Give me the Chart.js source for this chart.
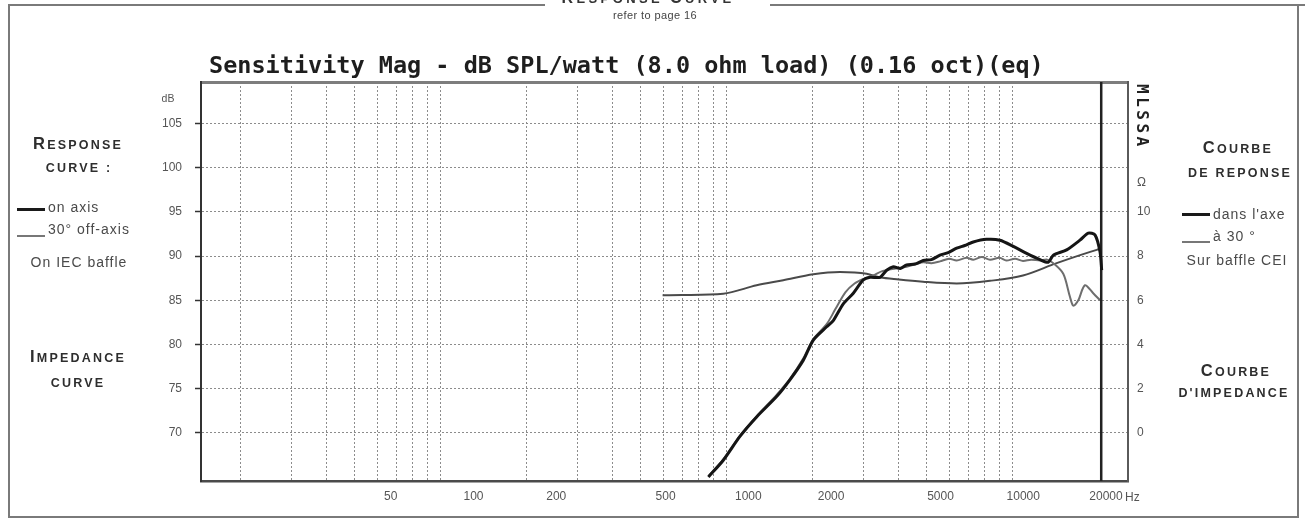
<!DOCTYPE html>
<html>
<head>
<meta charset="utf-8">
<script src="https://cdn.jsdelivr.net/npm/chart.js@4/dist/chart.umd.min.js"></script>
<style>
html,body{margin:0;padding:0;background:#fff;}
#wrap{position:relative;width:1305px;height:521px;overflow:hidden;font-family:"Liberation Sans",Arial,sans-serif;color:#333;background:#fff;}
canvas{position:absolute;left:0;top:0;}
.t{position:absolute;white-space:nowrap;transform:translate(-50%,-50%);}
.l{position:absolute;white-space:nowrap;transform:translate(0,-50%);}
.h{font-weight:bold;color:#2e2e2e;letter-spacing:2.2px;font-size:12.5px;}
.h .big{font-size:16.5px;}
.lg{font-size:14px;letter-spacing:1px;color:#4a4a4a;}
.ln{position:absolute;}
.fr{position:absolute;background:#7a7a7a;}
</style>
</head>
<body>
<div id="wrap">
<canvas id="c" width="1305" height="521"></canvas>

<!-- frame -->
<div class="fr" style="left:8px;top:4px;width:537px;height:2px;"></div>
<div class="fr" style="left:770px;top:4px;width:535px;height:2px;"></div>
<div class="fr" style="left:8px;top:4px;width:2px;height:514px;"></div>
<div class="fr" style="left:8px;top:516px;width:1290px;height:2px;"></div>
<div class="fr" style="left:1297px;top:4px;width:2px;height:514px;"></div>

<!-- header -->
<div class="t" style="left:648px;top:-2px;font-weight:bold;color:#333;letter-spacing:3.4px;font-size:13px;"><span style="font-size:16px">R</span>ESPONSE <span style="font-size:16px">C</span>URVE</div>
<div class="t" style="left:655px;top:15px;font-size:11px;letter-spacing:0.4px;color:#444;">refer to page 16</div>

<!-- chart title -->
<div style="position:absolute;left:209px;top:54px;font-family:'DejaVu Sans Mono',monospace;font-weight:bold;font-size:23.5px;line-height:1;color:#1e1e1e;white-space:nowrap;">Sensitivity Mag - dB SPL/watt (8.0 ohm load) (0.16 oct)(eq)</div>

<!-- left panel -->
<div class="t" style="left:168px;top:98px;font-size:10.5px;color:#555;">dB</div>
<div class="t h" style="left:78px;top:143px;"><span class="big">R</span>ESPONSE</div>
<div class="t h" style="left:79px;top:168px;">CURVE :</div>
<div class="ln" style="left:17px;top:208px;width:28px;height:3px;background:#1a1a1a;"></div>
<div class="l lg" style="left:48px;top:207px;">on axis</div>
<div class="ln" style="left:17px;top:235px;width:28px;height:2px;background:#777;"></div>
<div class="l lg" style="left:48px;top:229px;">30° off-axis</div>
<div class="t lg" style="left:79px;top:262px;">On IEC baffle</div>
<div class="t h" style="left:78px;top:356px;"><span class="big">I</span>MPEDANCE</div>
<div class="t h" style="left:78px;top:383px;">CURVE</div>

<!-- right panel -->
<div class="t h" style="left:1238px;top:147px;"><span class="big">C</span>OURBE</div>
<div class="t h" style="left:1240px;top:173px;">DE REPONSE</div>
<div class="ln" style="left:1182px;top:213px;width:28px;height:3px;background:#1a1a1a;"></div>
<div class="l lg" style="left:1213px;top:214px;">dans l'axe</div>
<div class="ln" style="left:1182px;top:241px;width:28px;height:2px;background:#777;"></div>
<div class="l lg" style="left:1213px;top:236px;">à 30 °</div>
<div class="t lg" style="left:1237px;top:260px;">Sur baffle CEI</div>
<div class="t h" style="left:1236px;top:370px;"><span class="big">C</span>OURBE</div>
<div class="t h" style="left:1234px;top:393px;">D'IMPEDANCE</div>

<div class="l" style="left:1125px;top:497px;font-size:12px;color:#555;">Hz</div>
</div>

<script>
// ---- axis definitions ----
const GRID_FREQS = [20,30,40,50,60,70,80,90,100,200,300,400,500,600,700,800,900,1000,2000,3000,4000,5000,6000,7000,8000,9000,10000];
const FREQ_LABELS = [50,100,200,500,1000,2000,5000,10000,20000];
const DB_TICKS = [70,75,80,85,90,95,100,105];
const OHM_TICKS = [0,2,4,6,8,10];
const OHM_UNIT_AT = 11.3;

const X_MIN = 14.52, X_MAX = 25310;          // plotted (MLSSA grid) frequency range
const LABEL_MIN = 10.2, LABEL_MAX = 24050;   // printed frequency labels range
const DB_MIN = 64.55, DB_MAX = 109.7;
const OHM_MIN = (DB_MIN - 70) / 2.5, OHM_MAX = (DB_MAX - 70) / 2.5;

// ---- data ----
const onAxisFreq = [863, 973, 1113, 1273, 1495, 1664, 1852, 2009, 2237, 2359, 2557, 2772, 3003, 3170, 3436, 3626, 3824, 4050, 4260, 4550, 4869, 5200, 5569, 5950, 6371, 6800, 7280, 8112, 9028, 10050, 11190, 12460, 13320, 13870, 15450, 17190, 18380, 19400, 20200, 20480];
const onAxisDb   = [65.0, 66.9, 69.6, 71.8, 74.1, 76.0, 78.2, 80.5, 82.0, 82.7, 84.6, 85.8, 87.3, 87.6, 87.6, 88.4, 88.8, 88.6, 89.0, 89.1, 89.5, 89.6, 90.1, 90.4, 90.9, 91.2, 91.6, 91.9, 91.8, 91.1, 90.3, 89.6, 89.3, 90.1, 90.7, 91.8, 92.6, 92.4, 90.5, 88.4];

const offAxisFreq = [863, 973, 1113, 1273, 1495, 1664, 1852, 2009, 2237, 2400, 2600, 2800, 3003, 3250, 3500, 3900, 4260, 4600, 4869, 5200, 5569, 6000, 6371, 6900, 7280, 7800, 8330, 9000, 9500, 10200, 10865, 11600, 12460, 13200, 13870, 15030, 15860, 16290, 16960, 17890, 19130, 20200];
const offAxisDb   = [65.1, 67.0, 69.7, 71.9, 74.3, 76.1, 78.4, 80.6, 82.3, 84.0, 85.9, 86.9, 87.4, 87.8, 88.3, 88.6, 88.8, 89.1, 89.3, 89.2, 89.4, 89.7, 89.5, 89.8, 89.6, 89.9, 89.6, 89.8, 89.5, 89.7, 89.45, 89.6, 89.5, 89.6, 89.2, 88.0, 85.4, 84.4, 85.0, 86.7, 85.8, 85.0];

const impFreq = [597, 700, 973, 1273, 1577, 2009, 2490, 3087, 3436, 4000, 4858, 6371, 8330, 10865, 14250, 19670, 20200];
const impOhm  = [6.23, 6.24, 6.30, 6.68, 6.91, 7.18, 7.28, 7.20, 7.04, 6.94, 6.84, 6.76, 6.88, 7.12, 7.68, 8.28, 8.32];

const MARKER_FREQ = 20400;

const pts = (xs, ys) => xs.map((x, i) => ({x, y: ys[i]}));
const FONT = {family: "'Liberation Sans', Arial, sans-serif", size: 12};

const mlssaPlugin = {
  id: 'mlssa',
  afterDraw(chart) {
    const {ctx, chartArea} = chart;
    ctx.save();
    ctx.translate(chartArea.right + 13, chartArea.top + 2);
    ctx.rotate(Math.PI / 2);
    ctx.font = "bold 16px 'DejaVu Sans Mono', monospace";
    ctx.fillStyle = '#222';
    ctx.textAlign = 'left';
    ctx.textBaseline = 'middle';
    try { ctx.letterSpacing = '3.5px'; } catch (e) {}
    ctx.fillText('MLSSA', 0, 0);
    ctx.restore();
  }
};

new Chart(document.getElementById('c'), {
  type: 'line',
  data: {
    datasets: [
      {label: 'on axis', data: pts(onAxisFreq, onAxisDb), xAxisID: 'x', yAxisID: 'y',
       borderColor: '#151515', borderWidth: 3, pointRadius: 0, tension: 0.25, fill: false},
      {label: 'marker', data: [{x: MARKER_FREQ, y: DB_MIN}, {x: MARKER_FREQ, y: DB_MAX}], xAxisID: 'x', yAxisID: 'y',
       borderColor: '#222', borderWidth: 2.5, pointRadius: 0, fill: false},
      {label: '30° off-axis', data: pts(offAxisFreq, offAxisDb), xAxisID: 'x', yAxisID: 'y',
       borderColor: '#6e6e6e', borderWidth: 2, pointRadius: 0, tension: 0.3, fill: false},
      {label: 'impedance', data: pts(impFreq, impOhm), xAxisID: 'x', yAxisID: 'y2',
       borderColor: '#4a4a4a', borderWidth: 2, pointRadius: 0, cubicInterpolationMode: 'monotone', fill: false}
    ]
  },
  options: {
    responsive: false,
    animation: false,
    events: [],
    layout: {padding: {top: 82, left: 0, right: 0, bottom: 0}},
    plugins: {legend: {display: false}, tooltip: {enabled: false}, title: {display: false}},
    scales: {
      x: {
        type: 'logarithmic', position: 'bottom', min: X_MIN, max: X_MAX, bounds: 'data',
        afterBuildTicks: s => { s.ticks = GRID_FREQS.map(v => ({value: v})); },
        afterFit: s => { s.height = 0; },
        ticks: {display: false},
        grid: {color: '#8c8c8c', lineWidth: 1, drawTicks: false},
        border: {display: true, color: '#4a4a4a', width: 2.5, dash: [2, 2]}
      },
      xl: {
        type: 'logarithmic', position: 'bottom', min: LABEL_MIN, max: LABEL_MAX, bounds: 'data',
        afterBuildTicks: s => { s.ticks = FREQ_LABELS.map(v => ({value: v})); },
        afterFit: s => { s.height = 40; },
        grid: {display: false, drawTicks: false},
        border: {display: false},
        ticks: {autoSkip: false, maxRotation: 0, padding: 8, color: '#555', font: FONT,
                callback: v => String(v)}
      },
      top: {
        type: 'linear', position: 'top', min: 0, max: 1, bounds: 'data',
        afterFit: s => { s.height = 0; },
        ticks: {display: false},
        grid: {display: false, drawTicks: false},
        border: {display: true, color: '#7d7d7d', width: 3}
      },
      y: {
        type: 'linear', position: 'left', min: DB_MIN, max: DB_MAX, bounds: 'data',
        afterBuildTicks: s => { s.ticks = DB_TICKS.map(v => ({value: v})); },
        afterFit: s => { s.width = 201; },
        grid: {color: '#8c8c8c', lineWidth: 1, drawTicks: true, tickLength: 6, tickColor: '#333', tickWidth: 1.5, tickBorderDash: []},
        border: {display: true, color: '#333', width: 2, dash: [2, 2]},
        ticks: {color: '#555', padding: 13, font: FONT}
      },
      y2: {
        type: 'linear', position: 'right', min: OHM_MIN, max: OHM_MAX, bounds: 'data',
        afterBuildTicks: s => { s.ticks = OHM_TICKS.concat([OHM_UNIT_AT]).map(v => ({value: v})); },
        afterFit: s => { s.width = 177; },
        grid: {display: false, drawTicks: false},
        border: {display: true, color: '#5a5a5a', width: 2},
        ticks: {color: '#555', padding: 9, font: FONT,
                callback: v => (v === OHM_UNIT_AT ? 'Ω' : String(v))}
      }
    }
  },
  plugins: [mlssaPlugin]
});
</script>
</body>
</html>
